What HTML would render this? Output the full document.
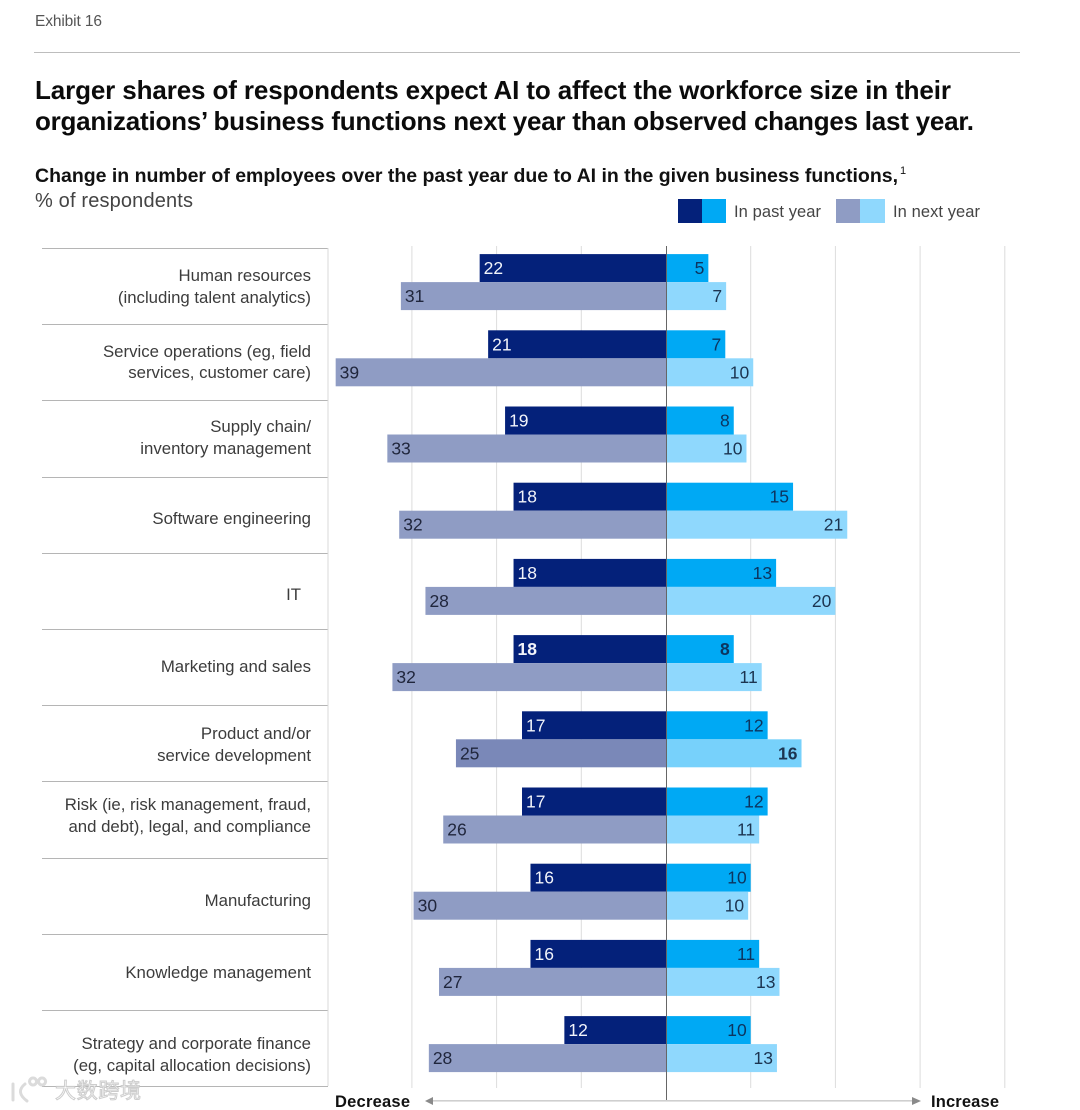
<!DOCTYPE html>
<html lang="en">
<head>
<meta charset="utf-8">
<title>Exhibit 16</title>
<style>
html,body{margin:0;padding:0;background:#fff;width:1080px;height:1110px;overflow:hidden}
svg{display:block;font-family:"Liberation Sans","Noto Sans CJK SC",sans-serif}
.cat{font-size:16.8px;fill:#3c3c3c;text-anchor:end}
.val{font-size:17.5px}
</style>
</head>
<body>
<svg id="chart" width="1080" height="1110" viewBox="0 0 1080 1110" xmlns="http://www.w3.org/2000/svg">
  <text x="35" y="26" font-size="15.5" fill="#555" textLength="67">Exhibit 16</text>
  <rect x="34" y="52" width="986" height="1" fill="#bdbdbd"/>
  <text x="35" y="99" font-size="26" font-weight="700" fill="#0b0b0b" textLength="916">Larger shares of respondents expect AI to affect the workforce size in their</text>
  <text x="35" y="130" font-size="26" font-weight="700" fill="#0b0b0b" textLength="939">organizations’ business functions next year than observed changes last year.</text>
  <text x="35" y="182" font-size="19.5" font-weight="700" fill="#111" textLength="863">Change in number of employees over the past year due to AI in the given business functions,</text>
  <text x="900" y="174" font-size="11" fill="#111">1</text>
  <text x="35" y="207" font-size="20" fill="#444" textLength="158">% of respondents</text>

  <g>
    <rect x="678" y="199" width="24" height="24" fill="#04217a"/>
    <rect x="702" y="199" width="24" height="24" fill="#00a9f4"/>
    <text x="734" y="217" font-size="16.5" fill="#444" textLength="87">In past year</text>
    <rect x="836" y="199" width="24" height="24" fill="#8f9cc4"/>
    <rect x="860" y="199" width="25" height="24" fill="#8fd8fd"/>
    <text x="893" y="217" font-size="16.5" fill="#444" textLength="87">In next year</text>
  </g>

  <g id="grid"></g>
  <g id="rows"></g>
  <rect x="327.5" y="248" width="1" height="838" fill="#d9d9d9"/>

  <g>
    <text class="cat" x="311" y="281">Human resources</text>
    <text class="cat" x="311" y="303">(including talent analytics)</text>
    <text class="cat" x="311" y="357">Service operations (eg, field</text>
    <text class="cat" x="311" y="378">services, customer care)</text>
    <text class="cat" x="311" y="432">Supply chain/</text>
    <text class="cat" x="311" y="454">inventory management</text>
    <text class="cat" x="311" y="524">Software engineering</text>
    <text class="cat" x="301" y="600">IT</text>
    <text class="cat" x="311" y="672">Marketing and sales</text>
    <text class="cat" x="311" y="739">Product and/or</text>
    <text class="cat" x="311" y="761">service development</text>
    <text class="cat" x="311" y="810">Risk (ie, risk management, fraud,</text>
    <text class="cat" x="311" y="832">and debt), legal, and compliance</text>
    <text class="cat" x="311" y="906">Manufacturing</text>
    <text class="cat" x="311" y="978">Knowledge management</text>
    <text class="cat" x="311" y="1049">Strategy and corporate finance</text>
    <text class="cat" x="311" y="1071">(eg, capital allocation decisions)</text>
  </g>

  <g id="bars"></g>
  <rect id="zero-line" x="666" y="246" width="1" height="854" fill="#666"/>

  <g>
    <text x="335" y="1107" font-size="16.5" font-weight="700" fill="#111" textLength="75">Decrease</text>
    <rect x="431" y="1100" width="484" height="1.6" fill="#cfcfcf"/>
    <polygon points="425,1101 433,1097 433,1105" fill="#8a8a8a"/>
    <polygon points="921,1101 912,1097 912,1105" fill="#8a8a8a"/>
    <text x="931" y="1107" font-size="16.5" font-weight="700" fill="#111" textLength="68">Increase</text>
  </g>

  <g opacity="0.9">
    <path d="M13 1084 L13 1100 M25 1084 Q15 1092 27 1101 M33 1078 a3.5 3.5 0 1 0 .1 0 M42 1078 a3.5 3.5 0 1 0 .1 0" fill="none" stroke="#d8d8d8" stroke-width="3" stroke-linecap="round"/>
    <text x="55" y="1098" font-size="21" fill="#fff" stroke="#c8c8c8" stroke-width="1" textLength="86" style="font-family:'Noto Sans CJK SC',sans-serif">大数跨境</text>
  </g>
</svg>

<script>
const categories = ["Human resources","Service operations","Supply chain","Software engineering","IT","Marketing and sales","Product development","Risk and compliance","Manufacturing","Knowledge management","Strategy and finance"];
const pastDecrease = [22,21,19,18,18,18,17,17,16,16,12];
const pastIncrease = [5,7,8,15,13,8,12,12,10,11,10];
const nextDecrease = [31.3,39,32.9,31.5,28.4,32.3,24.8,26.3,29.8,26.8,28];
const nextIncrease = [7.1,10.3,9.5,21.4,20,11.3,16,11,9.7,13.4,13.1];
const gridTicks = [-30,-20,-10,10,20,30,40];

const NS = "http://www.w3.org/2000/svg";
const zeroX = 666, unitWidth = 8.47, firstRowTop = 248, rowStep = 76.2, barOffset = 6.1, barHeight = 28;
const axisX = v => zeroX + v * unitWidth;
const rowY = i => firstRowTop + i * rowStep;

const gridGroup = document.getElementById("grid");
gridTicks.forEach(t => {
  const line = document.createElementNS(NS, "rect");
  line.setAttribute("x", axisX(t) - 0.5);
  line.setAttribute("y", 246);
  line.setAttribute("width", 1);
  line.setAttribute("height", 842);
  line.setAttribute("fill", "#dcdcdc");
  
  
  gridGroup.appendChild(line);
});

const rowGroup = document.getElementById("rows");
for (let i = 0; i <= categories.length; i++) {
  const divider = document.createElementNS(NS, "rect");
  divider.setAttribute("x", 42);
  divider.setAttribute("y", Math.round(rowY(i)));
  divider.setAttribute("width", 286);
  divider.setAttribute("height", 1);
  divider.setAttribute("fill", "#b5b5b5");
  
  
  rowGroup.appendChild(divider);
}

const barGroup = document.getElementById("bars");
function drawBar(i, value, side, lane, fill, textFill, weight) {
  const len = value * unitWidth;
  const y = rowY(i) + barOffset + lane * barHeight;
  const x = side < 0 ? zeroX - len : zeroX;
  const bar = document.createElementNS(NS, "rect");
  bar.setAttribute("x", x);
  bar.setAttribute("y", y);
  bar.setAttribute("width", len);
  bar.setAttribute("height", barHeight);
  bar.setAttribute("fill", fill);
  
  
  barGroup.appendChild(bar);
  const label = document.createElementNS(NS, "text");
  label.setAttribute("class", "val");
  label.setAttribute("x", side < 0 ? x + 4 : x + len - 4);
  label.setAttribute("y", y + barHeight / 2 + 6);
  label.setAttribute("text-anchor", side < 0 ? "start" : "end");
  label.setAttribute("fill", textFill);
  if (weight) label.setAttribute("font-weight", weight);
  label.textContent = Math.round(value);
  
  
  barGroup.appendChild(label);
}
categories.forEach((c, i) => {
  const hi = i === 6;
  drawBar(i, pastDecrease[i], -1, 0, "#04217a", "#f2f4fa", i === 5 ? 700 : 0);
  drawBar(i, pastIncrease[i], 1, 0, "#00a9f4", "#0c3560", i === 5 ? 700 : 0);
  drawBar(i, nextDecrease[i], -1, 1, hi ? "#7a88b8" : "#8f9cc4", "#20263c", 0);
  drawBar(i, nextIncrease[i], 1, 1, hi ? "#77d1fb" : "#8fd8fd", "#1c3450", hi ? 700 : 0);
});
</script>
</body>
</html>
